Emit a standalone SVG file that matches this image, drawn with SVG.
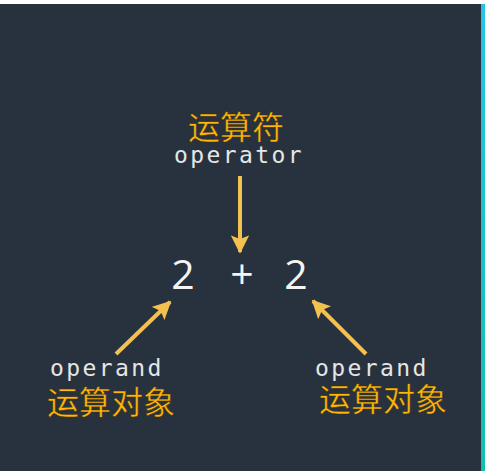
<svg xmlns="http://www.w3.org/2000/svg" width="485" height="471" viewBox="0 0 485 471">
<defs>
<linearGradient id="edge" x1="0" y1="0" x2="0" y2="1">
<stop offset="0" stop-color="#22c6e4"/>
<stop offset="1" stop-color="#12bfae"/>
</linearGradient>
<marker id="ah" viewBox="0 0 10 10" refX="9" refY="5" markerWidth="4.6" markerHeight="4.6" markerUnits="strokeWidth" orient="auto">
<path d="M0,0 L10,5 L0,10 L2,5 Z" fill="#f2c150"/>
</marker>
</defs>
<style>
.cn{font-family:"Noto Sans CJK SC",sans-serif;font-size:32px;fill:#ffb70a;stroke:#3a2a10;stroke-width:0.4px}
.en{font-family:"DejaVu Sans Mono",monospace;font-size:23px;fill:#e6e6e6;letter-spacing:2.4px}
.expr{font-family:"Open Sans","Liberation Sans",sans-serif;font-size:41px;fill:#f4f4f4;text-anchor:middle}
.arr{stroke:#f2c150;stroke-width:4;fill:none;marker-end:url(#ah)}
</style>
<rect x="0" y="0" width="485" height="471" fill="#ffffff"/>
<rect x="0" y="4" width="481" height="467" fill="#28323e"/>
<rect x="481" y="4" width="4" height="467" fill="url(#edge)"/>
<g id="connectors">
<line class="arr" x1="240" y1="176" x2="240" y2="252"/>
<line class="arr" x1="116" y1="354" x2="170" y2="302"/>
<line class="arr" x1="366" y1="354" x2="313" y2="301"/>
</g>
<g id="operator">
<text class="cn" x="236" y="139" text-anchor="middle">运算符</text>
<text class="en" x="174" y="163">operator</text>
</g>
<g id="expression">
<text class="expr" x="183" y="289">2</text>
<text class="expr" x="242" y="289">+</text>
<text class="expr" x="296" y="289">2</text>
</g>
<g id="operand-left">
<text class="en" x="50" y="376">operand</text>
<text class="cn" x="47" y="414">运算对象</text>
</g>
<g id="operand-right">
<text class="en" x="315" y="376">operand</text>
<text class="cn" x="319" y="411">运算对象</text>
</g>
</svg>
